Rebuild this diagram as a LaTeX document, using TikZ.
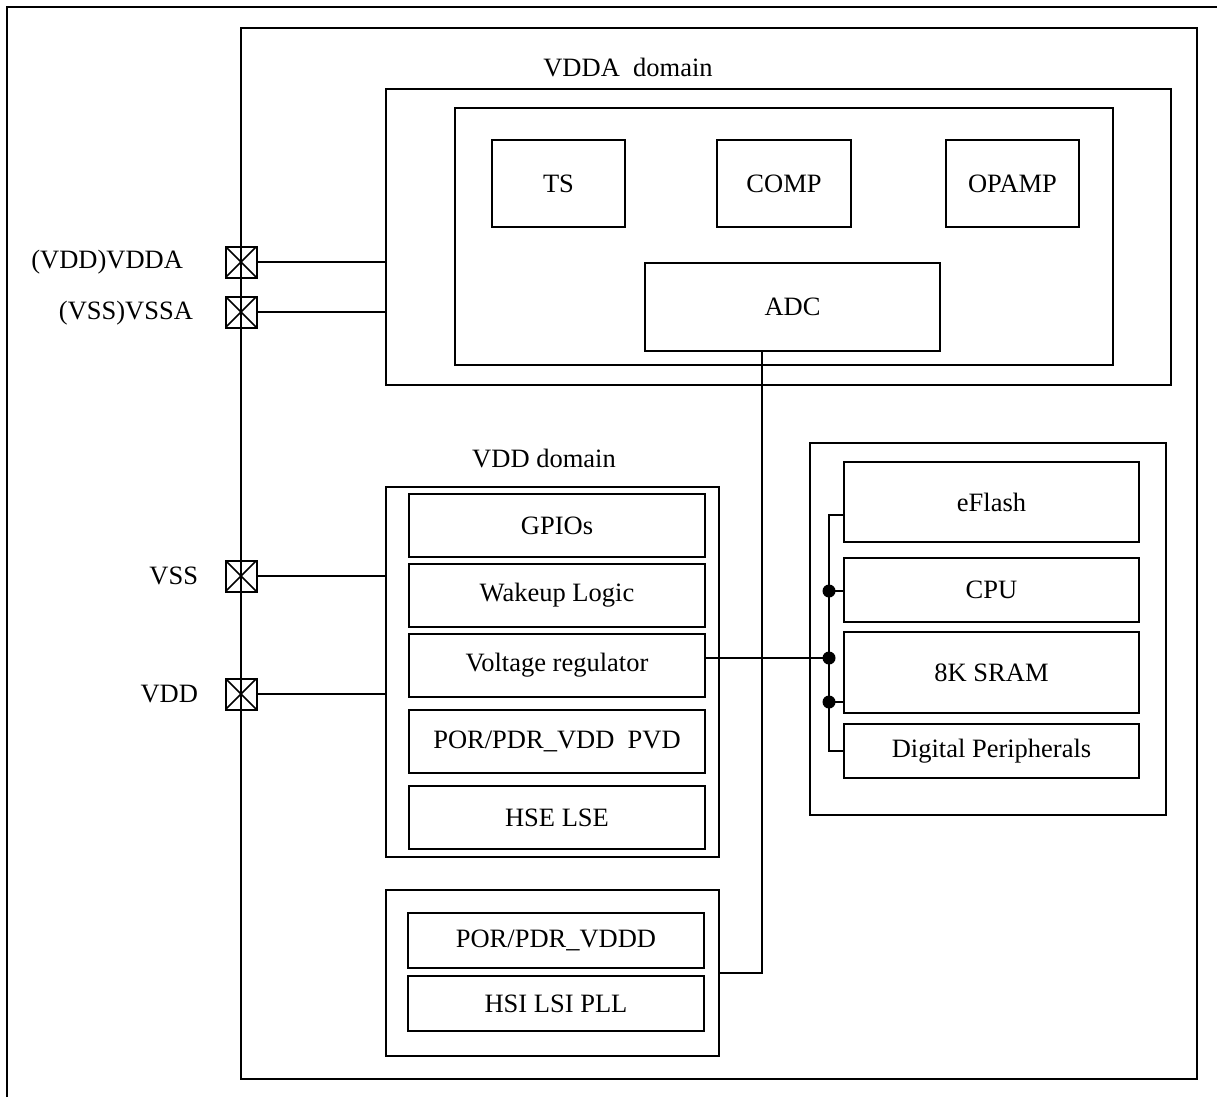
\documentclass[tikz,border=0pt]{standalone}
\usepackage{fontspec}
\setmainfont{Liberation Serif}
\begin{document}
\begin{tikzpicture}[x=1pt,y=-1pt,
  line width=2pt,
  every node/.style={font=\fontsize{26.5}{30}\selectfont, inner sep=0pt, outer sep=0pt},
  blk/.style={draw, rectangle, line width=2pt},
  padbox/.style={draw, rectangle, minimum size=31pt, line width=2pt,
    path picture={\draw[line width=1.5pt] (path picture bounding box.north west) -- (path picture bounding box.south east)
                  (path picture bounding box.north east) -- (path picture bounding box.south west);}},
  dot/.style={circle, fill=black, minimum size=13pt}
]
\useasboundingbox (0,0) rectangle (1217,1097);

% page frame (top and left edges)
\draw (7,1097) -- (7,7) -- (1217,7);

% chip outline
\node[blk, minimum width=956pt, minimum height=1051pt] (chip) at (719,553.5) {};

% VDDA domain
\node[blk, minimum width=785pt, minimum height=296pt] (vdda) at (778.5,237) {};
\node[blk, minimum width=658pt, minimum height=257pt] (vddain) at (784,236.5) {};
\node (vddalbl) at (628,68) {VDDA\ \ domain};
\node[blk, minimum width=133pt, minimum height=87pt] (ts) at (558.5,183.5) {TS};
\node[blk, minimum width=134pt, minimum height=87pt] (comp) at (784,183.5) {COMP};
\node[blk, minimum width=133pt, minimum height=87pt] (opamp) at (1012.5,183.5) {OPAMP};
\node[blk, minimum width=295pt, minimum height=88pt] (adc) at (792.5,307) {ADC};

% VDD domain
\node[blk, minimum width=333pt, minimum height=370pt] (vdd) at (552.5,672) {};
\node (vddlbl) at (544,459) {VDD domain};
\node[blk, minimum width=296pt, minimum height=63pt] (gpio) at (557,525.5) {GPIOs};
\node[blk, minimum width=296pt, minimum height=63pt] (wake) at (557,595.5) {Wakeup Logic};
\node[blk, minimum width=296pt, minimum height=63pt] (vreg) at (557,665.5) {Voltage regulator};
\node[blk, minimum width=296pt, minimum height=63pt] (por) at (557,741.5) {POR/PDR\_VDD\ \ PVD};
\node[blk, minimum width=296pt, minimum height=63pt] (hse) at (557,817.5) {HSE LSE};

% VDDD block
\node[blk, minimum width=333pt, minimum height=166pt] (vddd) at (552.5,973) {};
\node[blk, minimum width=296pt, minimum height=55pt] (pord) at (556,940.5) {POR/PDR\_VDDD};
\node[blk, minimum width=296pt, minimum height=55pt] (hsi) at (556,1003.5) {HSI LSI PLL};

% digital core
\node[blk, minimum width=356pt, minimum height=372pt] (core) at (988,629) {};
\node[blk, minimum width=295pt, minimum height=80pt] (eflash) at (991.5,502) {eFlash};
\node[blk, minimum width=295pt, minimum height=64pt] (cpu) at (991.5,590) {CPU};
\node[blk, minimum width=295pt, minimum height=81pt] (sram) at (991.5,672.5) {8K SRAM};
\node[blk, minimum width=295pt, minimum height=54pt] (dp) at (991.5,751) {Digital Peripherals};

% pads
\node[padbox] (pvdda) at (241,262) {};
\node[padbox] (pvssa) at (241,312) {};
\node[padbox] (pvss) at (241,576) {};
\node[padbox] (pvdd) at (241,694) {};
\node[anchor=east] (lvdda) at (183,262) {(VDD)VDDA};
\node[anchor=east] (lvssa) at (193,313) {(VSS)VSSA};
\node[anchor=east] (lvss) at (198,576) {VSS};
\node[anchor=east] (lvdd) at (198,694) {VDD};

\draw (pvdda.east) -- (vdda.west |- pvdda.east);
\draw (pvssa.east) -- (vdda.west |- pvssa.east);
\draw (pvss.east) -- (vdd.west |- pvss.east);
\draw (pvdd.east) -- (vdd.west |- pvdd.east);

% supply line from ADC down to the VDDD block
\coordinate (sx) at (762,0);
\draw (adc.south -| sx) |- (vddd.east);

% internal bus of the digital core
\coordinate (btop) at (829,515);
\coordinate (bcpu) at (829,591);
\coordinate (bvreg) at (829,658);
\coordinate (bsram) at (829,702);
\coordinate (bbot) at (829,751);
\draw (eflash.west |- btop) -- (btop) -- (bbot) -- (dp.west |- bbot);
\draw (bcpu) -- (cpu.west |- bcpu);
\draw (bsram) -- (sram.west |- bsram);
\draw (vreg.east |- bvreg) -- (bvreg);
\node[dot] (dcpu) at (bcpu) {};
\node[dot] (dvreg) at (bvreg) {};
\node[dot] (dsram) at (bsram) {};
\end{tikzpicture}
\end{document}
